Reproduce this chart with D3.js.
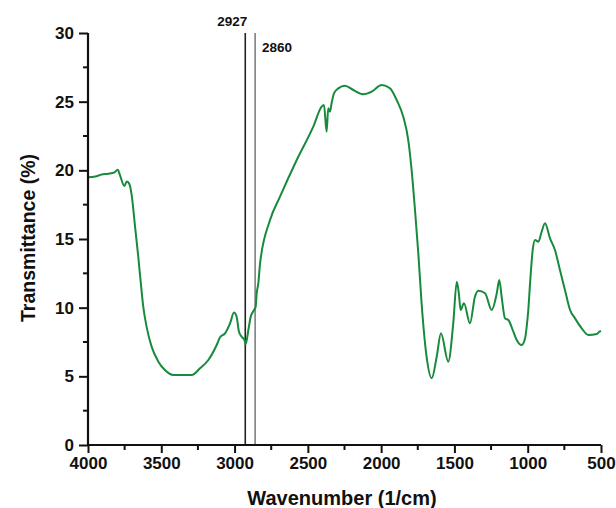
<!DOCTYPE html>
<html>
<head>
<meta charset="utf-8">
<script src="https://cdn.jsdelivr.net/npm/d3@7"></script>
<style>
  html, body { margin: 0; padding: 0; background: #fff; }
  svg { display: block; }
  text { font-family: "Liberation Sans", Arial, sans-serif; font-weight: bold; fill: #111; }
</style>
</head>
<body>
<svg id="chart" width="616" height="508"></svg>
<script>
// Spectrum data: wavenumber (1/cm) and transmittance (%)
const wavenumber = [4000, 3950, 3907, 3860, 3820, 3797, 3782, 3752, 3736, 3720, 3702, 3679, 3657, 3638, 3623, 3600, 3566, 3520, 3475, 3418, 3293, 3236, 3179, 3122, 3099, 3065, 3031, 3004, 2986, 2970, 2951, 2933, 2924, 2906, 2890, 2867, 2856, 2849, 2838, 2826, 2758, 2690, 2576, 2463, 2406, 2390, 2372, 2361, 2349, 2338, 2322, 2292, 2247, 2190, 2122, 2064, 1996, 1940, 1894, 1849, 1815, 1792, 1769, 1746, 1724, 1690, 1655, 1621, 1592, 1542, 1508, 1484, 1470, 1458, 1435, 1394, 1360, 1337, 1291, 1246, 1211, 1194, 1178, 1155, 1132, 1098, 1075, 1041, 1018, 1007, 996, 984, 966, 950, 927, 905, 882, 848, 814, 780, 746, 711, 677, 632, 586, 529, 511, 500];
const transmittance = [19.5, 19.55, 19.7, 19.75, 19.85, 20.05, 19.65, 18.86, 19.18, 19.05, 18.2, 15.9, 13.7, 11.6, 10.07, 8.6, 7.16, 6.07, 5.46, 5.1, 5.1, 5.58, 6.19, 7.28, 7.84, 8.13, 8.86, 9.64, 9.34, 8.25, 7.88, 7.65, 7.35, 8.37, 9.34, 9.83, 10.07, 11.05, 11.77, 13.23, 16.38, 18.08, 20.75, 23.18, 24.64, 24.76, 22.81, 24.52, 24.27, 24.88, 25.61, 25.97, 26.16, 25.85, 25.54, 25.73, 26.21, 25.97, 25.12, 23.9, 22.2, 20.02, 17.11, 13.9, 10.32, 6.43, 4.86, 6.43, 8.13, 6.07, 8.86, 11.89, 11.05, 9.83, 10.32, 8.86, 10.8, 11.24, 11.05, 9.83, 11.05, 12.02, 10.8, 9.22, 9.1, 8.25, 7.65, 7.28, 7.77, 8.61, 9.83, 11.77, 14.2, 14.93, 14.8, 15.53, 16.14, 15.05, 14.2, 12.74, 11.29, 9.83, 9.22, 8.5, 8.01, 8.08, 8.25, 8.3];

// Marked peaks
const markers = [2927, 2860];
const markerLabels = ["2927", "2860"];

// Axis ticks
const xTicks = [4000, 3500, 3000, 2500, 2000, 1500, 1000, 500];
const xMinorTicks = [3750, 3250, 2750, 2250, 1750, 1250, 750];
const yTicks = [0, 5, 10, 15, 20, 25, 30];
const yMinorTicks = [2.5, 7.5, 12.5, 17.5, 22.5, 27.5];

const xTitle = "Wavenumber (1/cm)";
const yTitle = "Transmittance (%)";

const svg = d3.select("#chart");
const mLeft = 88, mRight = 601, mTop = 33, mBottom = 445;

const x = d3.scaleLinear().domain([4000, 500]).range([mLeft, mRight]);
const y = d3.scaleLinear().domain([0, 30]).range([mBottom, mTop]);

const data = wavenumber.map((w, i) => ({ w, t: transmittance[i] }));

// Marker lines
const markerStyles = [{ c: "#222", w: 1.6 }, { c: "#555", w: 1.2 }];
svg.selectAll("line.marker").data(markers).enter().append("line")
  .attr("class", "marker")
  .attr("x1", d => x(d)).attr("x2", d => x(d))
  .attr("y1", y(30)).attr("y2", y(0))
  .attr("stroke", (d, i) => markerStyles[i].c)
  .attr("stroke-width", (d, i) => markerStyles[i].w);

// Marker labels
svg.append("text").attr("x", x(markers[0]) - 13).attr("y", 26)
  .attr("text-anchor", "middle").style("font-size", "13.5px").text(markerLabels[0]);
svg.append("text").attr("x", x(markers[1]) + 22).attr("y", 52)
  .attr("text-anchor", "middle").style("font-size", "13.5px").text(markerLabels[1]);

// Spectrum line
const line = d3.line().x(d => x(d.w)).y(d => y(d.t)).curve(d3.curveMonotoneX);
svg.append("path").datum(data)
  .attr("fill", "none")
  .attr("stroke", "#178a3c")
  .attr("stroke-width", 2)
  .attr("stroke-linejoin", "round")
  .attr("d", line);

// Axes
const xAxis = svg.append("g").attr("transform", `translate(0,${mBottom})`)
  .call(d3.axisBottom(x).tickValues(xTicks).tickSize(8).tickPadding(4).tickFormat(d3.format("d")));
xAxis.append("g").selectAll("line").data(xMinorTicks).enter().append("line")
  .attr("x1", d => x(d)).attr("x2", d => x(d)).attr("y1", 0).attr("y2", 5)
  .attr("stroke", "#111").attr("stroke-width", 2);

const yAxis = svg.append("g").attr("transform", `translate(${mLeft},0)`)
  .call(d3.axisLeft(y).tickValues(yTicks).tickSize(9).tickPadding(5));
yAxis.append("g").selectAll("line").data(yMinorTicks).enter().append("line")
  .attr("x1", 0).attr("x2", -5).attr("y1", d => y(d)).attr("y2", d => y(d))
  .attr("stroke", "#111").attr("stroke-width", 2);

[xAxis, yAxis].forEach(g => {
  g.select(".domain").attr("stroke", "#111").attr("stroke-width", 2.2);
  g.selectAll(".tick line").attr("stroke", "#111").attr("stroke-width", 2);
  g.selectAll(".tick text").style("font-size", "17px")
    .style("font-family", "'Liberation Sans', Arial, sans-serif").style("font-weight", "bold").attr("fill", "#111");
});
xAxis.selectAll(".domain").attr("d", `M${mLeft},0H${mRight}`);
yAxis.selectAll(".domain").attr("d", `M0,${mBottom}V${mTop}`);

// Titles
svg.append("text").attr("x", 342).attr("y", 505).attr("text-anchor", "middle")
  .style("font-size", "20px").text(xTitle);
svg.append("text").attr("transform", `translate(35,${238}) rotate(-90)`)
  .attr("text-anchor", "middle").style("font-size", "19.5px").text(yTitle);
</script>
</body>
</html>
